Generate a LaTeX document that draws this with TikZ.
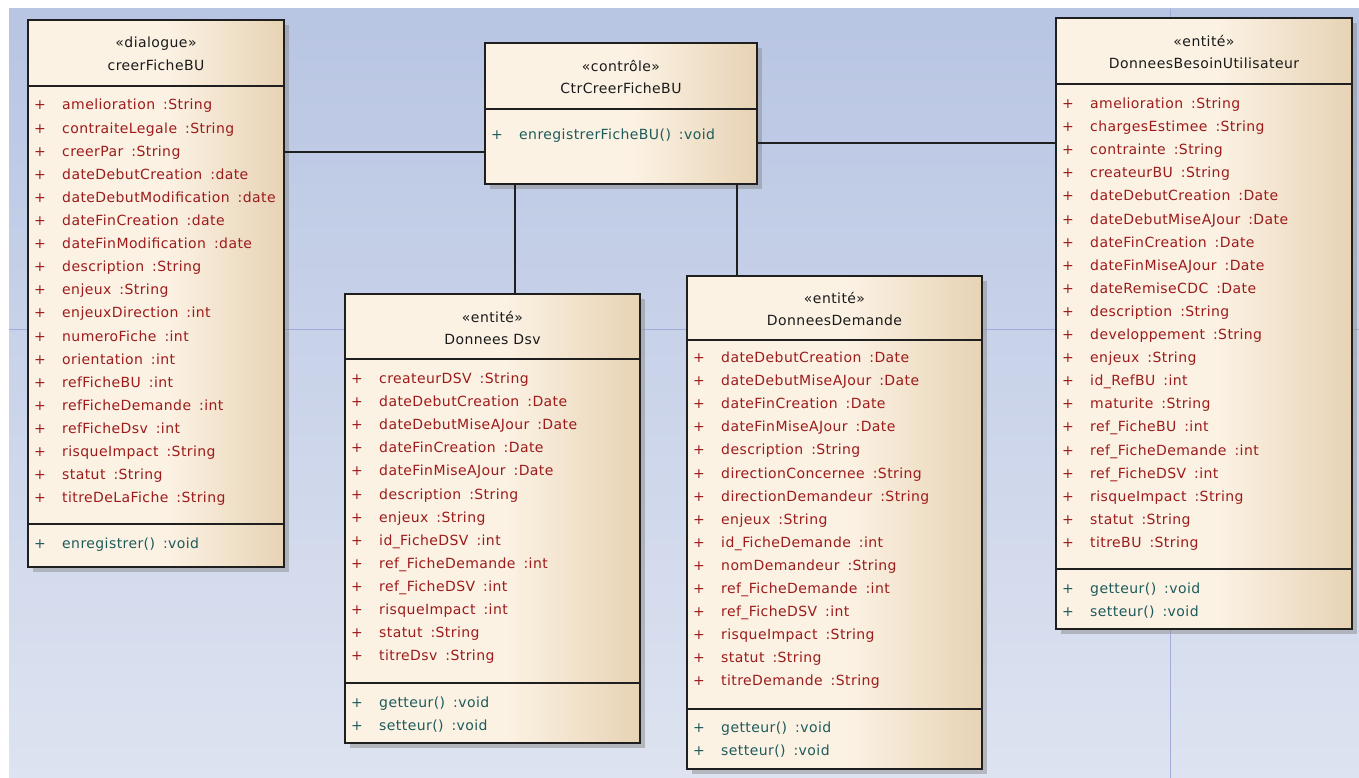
\documentclass[tikz,border=0pt]{standalone}
\usepackage{fontspec}
\newfontfamily\umlfont[LetterSpace=3]{DejaVu Sans}
\usetikzlibrary{shadows,positioning}
\definecolor{bgtop}{HTML}{B8C5E3}
\definecolor{bgbottom}{HTML}{DDE3F0}
\definecolor{gridblue}{HTML}{A3ABDD}
\definecolor{boxlight}{HTML}{FCF2E4}
\definecolor{boxdark}{HTML}{E7D3B5}
\definecolor{edgegray}{HTML}{1F1F1F}
\definecolor{attrred}{HTML}{9C1B1B}
\definecolor{opteal}{HTML}{1D5B5B}
\definecolor{headtext}{HTML}{1A1A1A}
\pgfdeclarehorizontalshading{classfill}{100bp}{color(0bp)=(boxlight); color(25bp)=(boxlight); color(52bp)=(boxlight); color(75bp)=(boxdark); color(100bp)=(boxdark)}
\newcommand{\ty}[1]{\hspace{8pt}:#1}
\newcommand{\pl}{\makebox[28pt][l]{+}}

\begin{document}
\begin{tikzpicture}[x=1pt, y=-1pt,
    every node/.style={font=\umlfont\fontsize{14}{16}\selectfont},
    classbox/.style={rectangle, anchor=north west, draw=edgegray, line width=1.6pt,
                     inner sep=0pt, outer sep=0pt, shading=classfill,
                     drop shadow={shadow xshift=5pt, shadow yshift=-5pt, fill=black!45, opacity=.5}},
    divider/.style={draw=edgegray, line width=1.3pt},
    link/.style={draw=edgegray, line width=1.4pt},
    head/.style={anchor=base, inner sep=0pt, text=headtext},
    attr/.style={anchor=base west, inner sep=0pt, text=attrred},
    oper/.style={anchor=base west, inner sep=0pt, text=opteal},
]
\useasboundingbox (0,0) rectangle (1359,778);

% background and grid
\fill[white] (0,0) rectangle (1359,778);
\fill[top color=bgtop, bottom color=bgbottom] (9,9) rectangle (1359,778);
\draw[gridblue, line width=1pt] (9,329) -- (1359,329);
\draw[gridblue, line width=1pt] (1170,9) -- (1170,778);

% creerFicheBU
\node[classbox, minimum width=256pt, minimum height=547pt] (creer) at (28,20) {};
\node[head] (creer-s) at (156,48) {«dialogue»};
\node[head] (creer-n) at (156,71) {creerFicheBU};
\draw[divider] (creer.west |- 0,86) -- (creer.east |- 0,86);
\draw[divider] (creer.west |- 0,524) -- (creer.east |- 0,524);
\foreach \a [count=\i from 0] in {amelioration\ty{String}, contraiteLegale\ty{String},
    creerPar\ty{String}, dateDebutCreation\ty{date}, dateDebutModification\ty{date},
    dateFinCreation\ty{date}, dateFinModification\ty{date}, description\ty{String},
    enjeux\ty{String}, enjeuxDirection\ty{int}, numeroFiche\ty{int}, orientation\ty{int},
    refFicheBU\ty{int}, refFicheDemande\ty{int}, refFicheDsv\ty{int},
    risqueImpact\ty{String}, statut\ty{String}, titreDeLaFiche\ty{String}}
  \node[attr] (creer-a\i) at (34,110+23.1*\i) {\pl\a};
\node[oper] (creer-o0) at (34,548) {\pl enregistrer()\ty{void}};

% CtrCreerFicheBU
\node[classbox, minimum width=272pt, minimum height=141pt] (ctr) at (485,43) {};
\node[head] (ctr-s) at (621,71.5) {«contrôle»};
\node[head] (ctr-n) at (621,94) {CtrCreerFicheBU};
\draw[divider] (ctr.west |- 0,109) -- (ctr.east |- 0,109);
\node[oper] (ctr-o0) at (491,140) {\pl enregistrerFicheBU()\ty{void}};

% Donnees Dsv
\node[classbox, minimum width=295pt, minimum height=449pt] (dsv) at (345,294) {};
\node[head] (dsv-s) at (492.5,322) {«entité»};
\node[head] (dsv-n) at (492.5,344) {Donnees Dsv};
\draw[divider] (dsv.west |- 0,359) -- (dsv.east |- 0,359);
\draw[divider] (dsv.west |- 0,683) -- (dsv.east |- 0,683);
\foreach \a [count=\i from 0] in {createurDSV\ty{String}, dateDebutCreation\ty{Date},
    dateDebutMiseAJour\ty{Date}, dateFinCreation\ty{Date}, dateFinMiseAJour\ty{Date},
    description\ty{String}, enjeux\ty{String}, id\_FicheDSV\ty{int},
    ref\_FicheDemande\ty{int}, ref\_FicheDSV\ty{int}, risqueImpact\ty{int},
    statut\ty{String}, titreDsv\ty{String}}
  \node[attr] (dsv-a\i) at (351,383.5+23.1*\i) {\pl\a};
\node[oper] (dsv-o0) at (351,707) {\pl getteur()\ty{void}};
\node[oper] (dsv-o1) at (351,730) {\pl setteur()\ty{void}};

% DonneesDemande
\node[classbox, minimum width=295pt, minimum height=493pt] (dem) at (687,276) {};
\node[head] (dem-s) at (834.5,303.5) {«entité»};
\node[head] (dem-n) at (834.5,325.5) {DonneesDemande};
\draw[divider] (dem.west |- 0,340) -- (dem.east |- 0,340);
\draw[divider] (dem.west |- 0,709) -- (dem.east |- 0,709);
\foreach \a [count=\i from 0] in {dateDebutCreation\ty{Date}, dateDebutMiseAJour\ty{Date},
    dateFinCreation\ty{Date}, dateFinMiseAJour\ty{Date}, description\ty{String},
    directionConcernee\ty{String}, directionDemandeur\ty{String}, enjeux\ty{String},
    id\_FicheDemande\ty{int}, nomDemandeur\ty{String}, ref\_FicheDemande\ty{int},
    ref\_FicheDSV\ty{int}, risqueImpact\ty{String}, statut\ty{String},
    titreDemande\ty{String}}
  \node[attr] (dem-a\i) at (693,362.5+23.1*\i) {\pl\a};
\node[oper] (dem-o0) at (693,732.5) {\pl getteur()\ty{void}};
\node[oper] (dem-o1) at (693,755.5) {\pl setteur()\ty{void}};

% DonneesBesoinUtilisateur
\node[classbox, minimum width=296pt, minimum height=611pt] (bu) at (1056,18) {};
\node[head] (bu-s) at (1204,47) {«entité»};
\node[head] (bu-n) at (1204,69) {DonneesBesoinUtilisateur};
\draw[divider] (bu.west |- 0,84) -- (bu.east |- 0,84);
\draw[divider] (bu.west |- 0,569) -- (bu.east |- 0,569);
\foreach \a [count=\i from 0] in {amelioration\ty{String}, chargesEstimee\ty{String},
    contrainte\ty{String}, createurBU\ty{String}, dateDebutCreation\ty{Date},
    dateDebutMiseAJour\ty{Date}, dateFinCreation\ty{Date}, dateFinMiseAJour\ty{Date},
    dateRemiseCDC\ty{Date}, description\ty{String}, developpement\ty{String},
    enjeux\ty{String}, id\_RefBU\ty{int}, maturite\ty{String}, ref\_FicheBU\ty{int},
    ref\_FicheDemande\ty{int}, ref\_FicheDSV\ty{int}, risqueImpact\ty{String},
    statut\ty{String}, titreBU\ty{String}}
  \node[attr] (bu-a\i) at (1062,108.5+23.1*\i) {\pl\a};
\node[oper] (bu-o0) at (1062,593) {\pl getteur()\ty{void}};
\node[oper] (bu-o1) at (1062,616) {\pl setteur()\ty{void}};

% associations
\coordinate (toCreer) at ([yshift=-38.5pt]ctr.west);
\coordinate (toBu) at ([yshift=-29.5pt]ctr.east);
\coordinate (toDsv) at ([xshift=30pt]ctr.south west);
\coordinate (toDem) at ([xshift=-20pt]ctr.south east);
\draw[link] (toCreer) -- (toCreer -| creer.east);
\draw[link] (toBu) -- (toBu -| bu.west);
\draw[link] (toDsv) -- (toDsv |- dsv.north);
\draw[link] (toDem) -- (toDem |- dem.north);

\end{tikzpicture}
\end{document}
